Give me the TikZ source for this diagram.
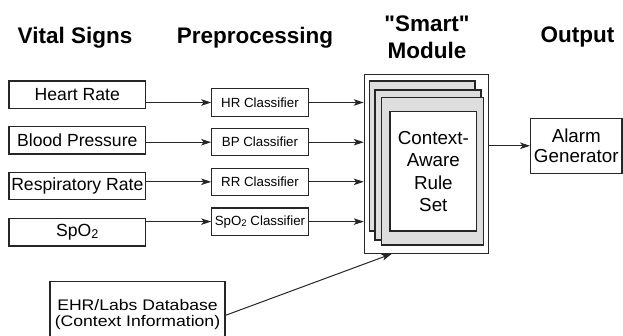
\documentclass[tikz,border=0pt]{standalone}
\usepackage{fontspec}
\setmainfont{Liberation Sans}[Ligatures=TeXOff]
\usetikzlibrary{arrows.meta,calc}
\newcommand{\spotwo}{SpO\raisebox{-0.08em}{\scalebox{0.72}{2}}}
\begin{document}
\begin{tikzpicture}[x=1pt,y=-1pt,
  box/.style={draw=black!85,line width=1.1pt,inner sep=0pt,align=center,fill=white},
  vbox/.style={box,minimum width=136.7pt,minimum height=27.4pt,font=\fontsize{17.6}{20}\selectfont},
  cbox/.style={box,minimum width=96.6pt,minimum height=27.3pt,font=\fontsize{13.3}{15}\selectfont},
  ttl/.style={font=\fontsize{22.5}{26.6}\selectfont\bfseries,inner sep=0pt,anchor=base},
  arr/.style={draw=black!85,line width=1pt,-{Stealth[length=10pt,width=6.5pt,inset=2.5pt]}},
  pagebox/.style={draw=black!85,line width=1.1pt,fill=black!13,inner sep=0pt}]
\useasboundingbox (0,0) rectangle (623,335);
\clip (0,0) rectangle (623,335);
% titles
\node[ttl] (t1) at (75,43.3) {Vital Signs};
\node[ttl] (t2) at (255,43.3) {Preprocessing};
\node[ttl] (t3a) at (427,31.7) {"Smart"};
\node[ttl] (t3b) at (427,58.3) {Module};
\node[ttl] (t4) at (577.5,42.5) {Output};
% vital signs
\node[vbox] (hr) at (77.3,94.7) {Heart Rate};
\node[vbox] (bp) at (77.3,140.3) {Blood Pressure};
\node[vbox] (rr) at (77.3,186) {Respiratory Rate};
\node[vbox] (sp) at (77.3,232.3) {\spotwo};
% classifiers
\node[cbox] (hrc) at (260,102.5) {HR Classifier};
\node[cbox] (bpc) at (260,142.2) {BP Classifier};
\node[cbox] (rrc) at (260,181.8) {RR Classifier};
\node[cbox] (spc) at (260,221.6) {\spotwo{} Classifier};
% smart module
\node[box,minimum width=124pt,minimum height=179pt] (smart) at (426.3,163.8) {};
\node[pagebox,minimum width=105.7pt,minimum height=150pt] (p1) at (422.15,156) {};
\node[pagebox,minimum width=106pt,minimum height=150pt] (p2) at (428,165) {};
\node[pagebox,minimum width=101.6pt,minimum height=147.7pt] (p3) at (432.5,171.15) {};
\node[box,minimum width=86.7pt,minimum height=119.3pt,font=\fontsize{18.8}{22.5}\selectfont] (rules) at (433.35,171.35) {Context-\\Aware\\Rule\\Set};
% output
\node[box,minimum width=91.3pt,minimum height=55pt,font=\fontsize{18.8}{20}\selectfont] (alarm) at (576.3,145.8) {Alarm\\Generator};
% EHR
\node[box,minimum width=175pt,minimum height=67.2pt,font=\fontsize{17.6}{17.6}\selectfont] (ehr) at (137.5,315.3)
  {\scalebox{1}[0.87]{\begin{tabular}{@{}c@{}}EHR/Labs Database\\[-0.5pt](Context Information)\end{tabular}}};
% connectors
\draw[arr] (hr.east |- hrc.west) -- (hrc.west);
\draw[arr] (bp.east |- bpc.west) -- (bpc.west);
\draw[arr] (rr.east |- rrc.west) -- (rrc.west);
\draw[arr] (sp.east |- spc.west) -- (spc.west);
\draw[arr] (hrc.east) -- (hrc.east -| smart.west);
\draw[arr] (bpc.east) -- (bpc.east -| smart.west);
\draw[arr] (rrc.east) -- (rrc.east -| smart.west);
\draw[arr] (spc.east) -- (spc.east -| smart.west);
\draw[arr] (smart.east |- alarm.west) -- (alarm.west);
\coordinate (ehrin) at ($(smart.south west)+(28,0)$);
\draw[arr] (ehr.east) -- (ehrin);
\end{tikzpicture}
\end{document}
